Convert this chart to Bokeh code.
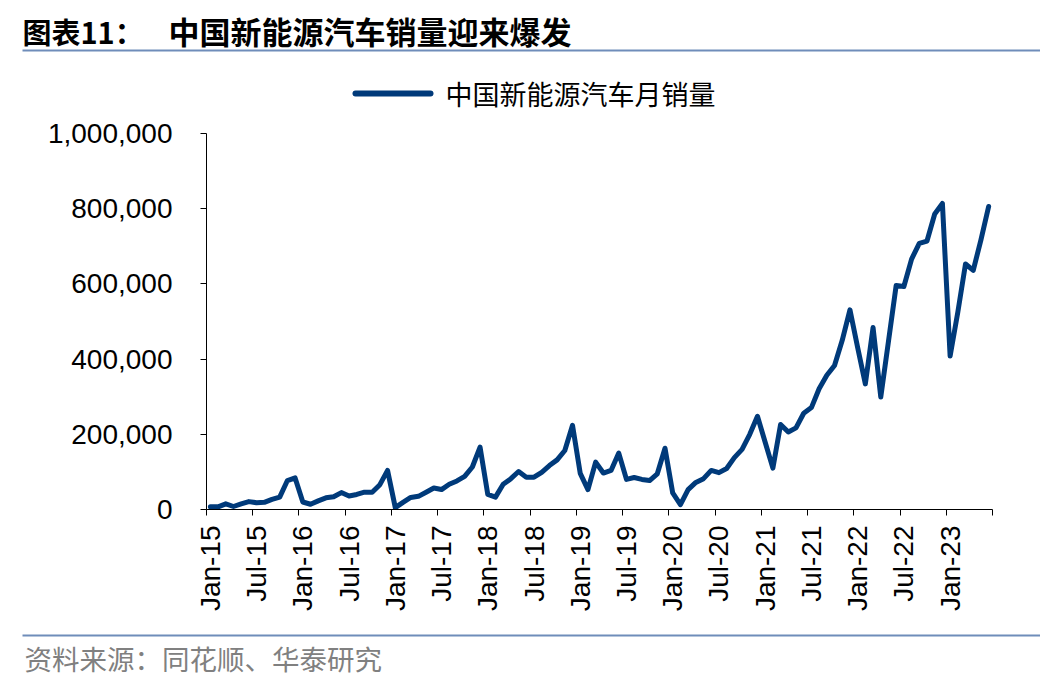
import math
from bokeh.plotting import figure
from bokeh.layouts import column
from bokeh.models import (FixedTicker, NumeralTickFormatter, LinearAxis, Range1d,
                          ColumnDataSource)
from bokeh.core.properties import value
from bokeh.embed import file_html
from bokeh.resources import INLINE

# Monthly NEV sales in China (units), Jan-2015 .. Jun-2023
sales_2015 = [7000, 7000, 15000, 8000, 15000, 21000, 18000, 19000, 27000, 33000, 77000, 84000]
sales_2016 = [20000, 14000, 23000, 31000, 34000, 45000, 36000, 40000, 46000, 46000, 66000, 104000]
sales_2017 = [5000, 19000, 32000, 35000, 46000, 57000, 53000, 67000, 76000, 88000, 113000, 166000]
sales_2018 = [40000, 33000, 67000, 82000, 101000, 86000, 86000, 99000, 117000, 132000, 157000, 224000]
sales_2019 = [96000, 53000, 126000, 97000, 104000, 150000, 80000, 85000, 80000, 77000, 95000, 163000]
sales_2020 = [44000, 13000, 53000, 72000, 82000, 104000, 98000, 109000, 138000, 160000, 200000, 248000]
sales_2021 = [179000, 110000, 226000, 206000, 217000, 256000, 271000, 321000, 357000, 383000, 450000, 531000]
sales_2022 = [431000, 334000, 484000, 299000, 447000, 596000, 593000, 666000, 708000, 714000, 786000, 814000]
sales_2023 = [408000, 525000, 653000, 636000, 717000, 806000]

sales = (sales_2015 + sales_2016 + sales_2017 + sales_2018 + sales_2019 +
         sales_2020 + sales_2021 + sales_2022 + sales_2023)

month_names = ["Jan", "Feb", "Mar", "Apr", "May", "Jun",
               "Jul", "Aug", "Sep", "Oct", "Nov", "Dec"]
years = ["15", "16", "17", "18", "19", "20", "21", "22", "23"]
months = [f"{m}-{y}" for y in years for m in month_names][:len(sales)]

tick_labels = ["Jan-15", "Jul-15", "Jan-16", "Jul-16", "Jan-17", "Jul-17",
               "Jan-18", "Jul-18", "Jan-19", "Jul-19", "Jan-20", "Jul-20",
               "Jan-21", "Jul-21", "Jan-22", "Jul-22", "Jan-23"]
y_ticks = [0, 200000, 400000, 600000, 800000, 1000000]

title_prefix = "图表11："
title_text = "中国新能源汽车销量迎来爆发"
series_name = "中国新能源汽车月销量"
source_text = "资料来源：同花顺、华泰研究"

LINE_COLOR = "#003A7A"
RULE_COLOR = "#6F8DBA"
CJK = "Noto Sans CJK SC"
LATIN = "Liberation Sans"
W = 1040
HEAD_H, MAIN_H, FOOT_H = 116, 504, 60
MAIN_TOP = 133 - HEAD_H


def blank(h):
    f = figure(width=W, height=h, output_backend="svg", toolbar_location=None,
               x_range=Range1d(0, W), y_range=Range1d(h, 0),
               x_axis_type=None, y_axis_type=None, min_border=0,
               frame_align=False)
    f.outline_line_color = None
    f.xgrid.visible = False
    f.ygrid.visible = False
    return f


# ---------- header: title, rule, legend ----------
head = blank(HEAD_H)
head.text(x=[22], y=[30], text=[title_prefix], text_font=value(CJK),
          text_font_size="29px", text_font_style="bold", text_color="black",
          text_baseline="middle", text_align="left")
head.text(x=[168], y=[30], text=[title_text], text_font=value(CJK),
          text_font_size="31px", text_font_style="bold", text_color="black",
          text_baseline="middle", text_align="left")
head.segment(x0=[22], y0=[50], x1=[1040], y1=[50], line_color=RULE_COLOR, line_width=2)
head.segment(x0=[355], y0=[93], x1=[430], y1=[93], line_color=LINE_COLOR,
             line_width=6, line_cap="round")
head.text(x=[445], y=[93], text=[series_name], text_font=value(CJK),
          text_font_size="27px", text_color="black",
          text_baseline="middle", text_align="left")

# ---------- main chart ----------
src = ColumnDataSource(dict(x=list(range(len(sales))), y=sales, month=months))

p = figure(width=W, height=MAIN_H, output_backend="svg", toolbar_location=None,
           x_range=Range1d(-0.5, len(sales) - 0.5), y_range=Range1d(0, 1000000),
           min_border_left=206, min_border_right=48, min_border_top=MAIN_TOP,
           min_border_bottom=MAIN_H - MAIN_TOP - 376, x_axis_type=None,
           frame_align=False)
p.outline_line_color = None
p.xgrid.visible = False
p.ygrid.visible = False

p.line("x", "y", source=src, line_width=5, line_color=LINE_COLOR,
       line_join="round", line_cap="round")

# x axis 1: tick marks at category boundaries every 6 months
tick_pos = [i * 6 - 0.5 for i in range(len(tick_labels) + 1)]
xa = LinearAxis(ticker=FixedTicker(ticks=tick_pos, minor_ticks=[]))
xa.major_label_overrides = {pos: "" for pos in tick_pos}
xa.major_label_standoff = 0
xa.major_label_text_font_size = "0px"
xa.major_tick_in = 0
xa.major_tick_out = 6
xa.minor_tick_in = 0
xa.minor_tick_out = 0
xa.axis_line_color = "black"
xa.major_tick_line_color = "black"
p.add_layout(xa, "below")

# x axis 2: labels centred on their month
label_pos = [i * 6 for i in range(len(tick_labels))]
xl = LinearAxis(ticker=FixedTicker(ticks=label_pos, minor_ticks=[]))
xl.major_label_overrides = {pos: lab for pos, lab in zip(label_pos, tick_labels)}
xl.major_label_orientation = math.pi / 2
xl.major_label_text_font = LATIN
xl.major_label_text_font_size = "28px"
xl.major_label_text_color = "black"
xl.major_label_standoff = 10
xl.axis_line_color = None
xl.major_tick_line_color = None
xl.major_tick_in = 0
xl.major_tick_out = 0
xl.minor_tick_in = 0
xl.minor_tick_out = 0
p.add_layout(xl, "below")

ya = p.yaxis[0]
ya.ticker = FixedTicker(ticks=y_ticks, minor_ticks=[])
ya.formatter = NumeralTickFormatter(format="0,0")
ya.major_label_text_font = LATIN
ya.major_label_text_font_size = "28px"
ya.major_label_text_color = "black"
ya.major_label_standoff = 28
ya.major_tick_in = 0
ya.major_tick_out = 6
ya.minor_tick_out = 0
ya.minor_tick_in = 0
ya.axis_line_color = "black"
ya.major_tick_line_color = "black"

# ---------- footer: rule and source ----------
foot = blank(FOOT_H)
foot.segment(x0=[22], y0=[15], x1=[1040], y1=[15], line_color=RULE_COLOR, line_width=2)
foot.text(x=[24], y=[37], text=[source_text], text_font=value(CJK),
          text_font_size="27.5px", text_color="#808080",
          text_baseline="middle", text_align="left")

layout = column(head, p, foot, spacing=0)
open("out.html", "w").write(file_html(layout, INLINE))
